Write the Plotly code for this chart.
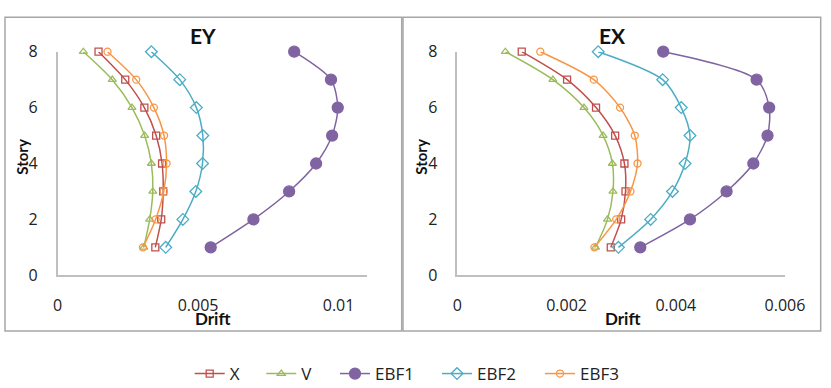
import plotly.graph_objects as go

W, H = 831, 388

stories = [1, 2, 3, 4, 5, 6, 7, 8]

# EY panel drifts (story 1..8)
ey_x    = [0.00348, 0.00369, 0.00376, 0.00372, 0.00351, 0.00309, 0.00241, 0.00146]
ey_v    = [0.00307, 0.00328, 0.00339, 0.00334, 0.00310, 0.00265, 0.00195, 0.00092]
ey_ebf1 = [0.00545, 0.00697, 0.00824, 0.00920, 0.00977, 0.00997, 0.00973, 0.00842]
ey_ebf2 = [0.00385, 0.00446, 0.00492, 0.00516, 0.00517, 0.00494, 0.00435, 0.00334]
ey_ebf3 = [0.00304, 0.00349, 0.00378, 0.00388, 0.00379, 0.00343, 0.00280, 0.00178]

# EX panel drifts (story 1..8)
ex_x    = [0.00281, 0.00300, 0.00308, 0.00306, 0.00289, 0.00254, 0.00201, 0.00118]
ex_v    = [0.00253, 0.00275, 0.00285, 0.00284, 0.00267, 0.00232, 0.00175, 0.00088]
ex_ebf1 = [0.00335, 0.00426, 0.00493, 0.00542, 0.00568, 0.00571, 0.00548, 0.00377]
ex_ebf2 = [0.00295, 0.00354, 0.00394, 0.00417, 0.00426, 0.00410, 0.00376, 0.00258]
ex_ebf3 = [0.00251, 0.00291, 0.00317, 0.00330, 0.00325, 0.00298, 0.00250, 0.00152]

names   = ["X", "V", "EBF1", "EBF2", "EBF3"]
colors  = ["#C0504D", "#9BBB59", "#8064A2", "#4BACC6", "#F79646"]
symbols = ["square-open", "triangle-up-open", "circle", "diamond-open", "circle-open"]
msizes  = [7, 7, 11, 9, 7]

ey_series = [ey_x, ey_v, ey_ebf1, ey_ebf2, ey_ebf3]
ex_series = [ex_x, ex_v, ex_ebf1, ex_ebf2, ex_ebf3]

FONT = "Open Sans"
BFONT = "Lato"

def px(x):
    return x / W

def py(y):
    return 1 - y / H

legend_ids = ["legend", "legend2", "legend3", "legend4", "legend5"]
legend_x = [196.7, 268.3, 342, 444, 547]  # start of each legend entry's line, px

fig = go.Figure()
for i, name in enumerate(names):
    common = dict(
        mode="lines+markers",
        line=dict(color=colors[i], width=1.5, shape="spline", smoothing=0.8),
        marker=dict(symbol=symbols[i], size=msizes[i], color=colors[i],
                    line=dict(color=colors[i], width=1.3)),
        cliponaxis=False,
    )
    fig.add_trace(go.Scatter(x=ey_series[i], y=stories, name=name,
                             xaxis="x", yaxis="y", showlegend=True,
                             legend=legend_ids[i], **common))
    fig.add_trace(go.Scatter(x=ex_series[i], y=stories, name=name,
                             xaxis="x2", yaxis="y2", showlegend=False, **common))

axis_common = dict(showgrid=False, zeroline=False, showline=True,
                   linecolor="#BFBFBF", linewidth=1.5, ticks="",
                   tickfont=dict(family=FONT, size=16, color="#222222"))

ydom = [py(275.3), py(51.7)]
fig.update_layout(
    width=W, height=H,
    margin=dict(l=0, r=0, t=0, b=0, autoexpand=False),
    paper_bgcolor="white", plot_bgcolor="white",
    font=dict(family=FONT),
    xaxis=dict(domain=[px(57.5), px(366.7)], range=[0, 0.011],
               tickvals=[0, 0.005, 0.01], ticktext=["0", "0.005", "0.01"],
               anchor="y", ticklabelstandoff=15, **axis_common),
    yaxis=dict(domain=ydom, range=[0, 8], tickvals=[0, 2, 4, 6, 8],
               anchor="x", ticklabelstandoff=15, **axis_common),
    xaxis2=dict(domain=[px(457.3), px(785)], range=[0, 0.006],
                tickvals=[0, 0.002, 0.004, 0.006],
                ticktext=["0", "0.002", "0.004", "0.006"],
                anchor="y2", ticklabelstandoff=15, **axis_common),
    yaxis2=dict(domain=ydom, range=[0, 8], tickvals=[0, 2, 4, 6, 8],
                anchor="x2", ticklabelstandoff=15, **axis_common),
    showlegend=True,
)

for lid, lx in zip(legend_ids, legend_x):
    fig.update_layout({lid: dict(orientation="h", x=px(lx - 7), xanchor="left",
                                 y=py(374), yanchor="middle",
                                 font=dict(family=FONT, size=17, color="#222222"),
                                 itemwidth=30, bgcolor="rgba(0,0,0,0)", borderwidth=0)})

anns = [
    ("EY", 203, 35, 0, 21), ("EX", 612, 35, 0, 21),
    ("Story", 21.7, 157, -90, 15), ("Story", 420.7, 157, -90, 15),
    ("Drift", 212, 318, 0, 17), ("Drift", 622, 318, 0, 17),
]
for text, x, y, ang, sz in anns:
    fig.add_annotation(text=f"<b>{text}</b>", x=px(x), y=py(y), xref="paper", yref="paper",
                       showarrow=False, textangle=ang, xanchor="center", yanchor="middle",
                       font=dict(family=BFONT, size=sz, color="#111111"))

for x0, x1 in [(5, 401.7), (403, 820.7)]:
    fig.add_shape(type="rect", xref="paper", yref="paper",
                  x0=px(x0), x1=px(x1), y0=py(331), y1=py(17.3),
                  line=dict(color="#A6A6A6", width=1.5), fillcolor="rgba(0,0,0,0)")

fig.write_html("out.html")
